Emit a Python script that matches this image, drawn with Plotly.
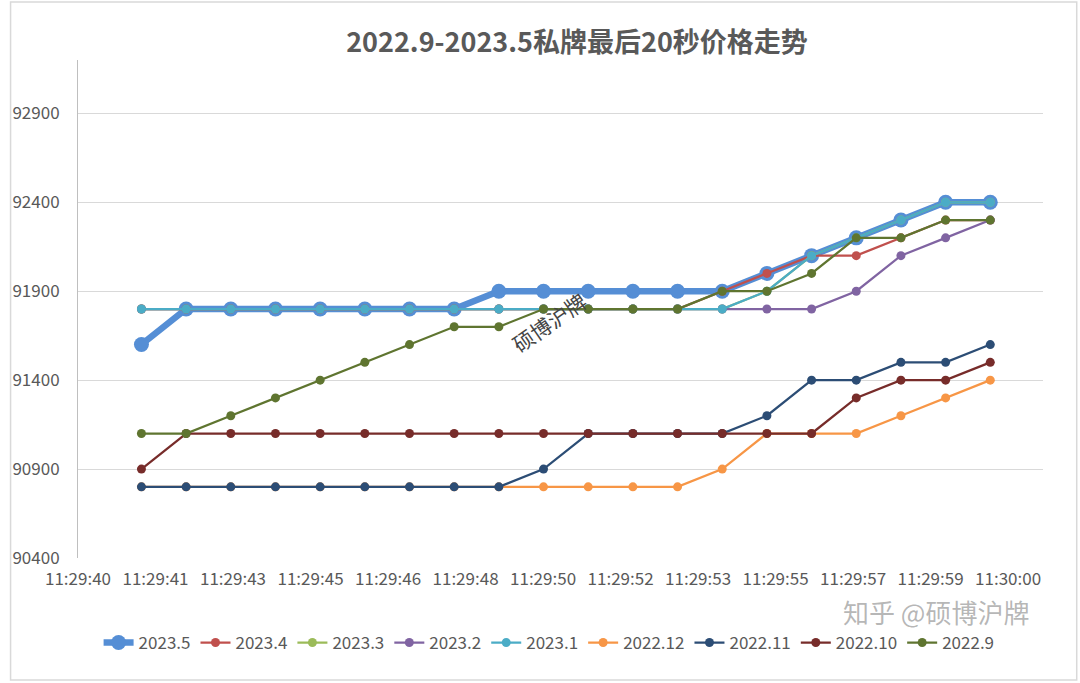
import datetime as dt
import plotly.graph_objects as go

# ---------------- data ----------------
times = ["11:29:41", "11:29:42", "11:29:43", "11:29:44", "11:29:45", "11:29:46", "11:29:47",
         "11:29:48", "11:29:49", "11:29:50", "11:29:51", "11:29:52", "11:29:53", "11:29:54",
         "11:29:55", "11:29:56", "11:29:57", "11:29:58", "11:29:59", "11:30:00"]

s_2023_5 = [91600, 91800, 91800, 91800, 91800, 91800, 91800, 91800, 91900, 91900,
            91900, 91900, 91900, 91900, 92000, 92100, 92200, 92300, 92400, 92400]
s_2023_4 = [91800, 91800, 91800, 91800, 91800, 91800, 91800, 91800, 91800, 91800,
            91800, 91800, 91800, 91900, 92000, 92100, 92100, 92200, 92300, 92300]
s_2023_3 = [91800, 91800, 91800, 91800, 91800, 91800, 91800, 91800, 91800, 91800,
            91800, 91800, 91800, 91800, 91900, 92100, 92200, 92300, 92400, 92400]
s_2023_2 = [91800, 91800, 91800, 91800, 91800, 91800, 91800, 91800, 91800, 91800,
            91800, 91800, 91800, 91800, 91800, 91800, 91900, 92100, 92200, 92300]
s_2023_1 = [91800, 91800, 91800, 91800, 91800, 91800, 91800, 91800, 91800, 91800,
            91800, 91800, 91800, 91800, 91900, 92100, 92200, 92300, 92400, 92400]
s_2022_12 = [90800, 90800, 90800, 90800, 90800, 90800, 90800, 90800, 90800, 90800,
             90800, 90800, 90800, 90900, 91100, 91100, 91100, 91200, 91300, 91400]
s_2022_11 = [90800, 90800, 90800, 90800, 90800, 90800, 90800, 90800, 90800, 90900,
             91100, 91100, 91100, 91100, 91200, 91400, 91400, 91500, 91500, 91600]
s_2022_10 = [90900, 91100, 91100, 91100, 91100, 91100, 91100, 91100, 91100, 91100,
             91100, 91100, 91100, 91100, 91100, 91100, 91300, 91400, 91400, 91500]
s_2022_9 = [91100, 91100, 91200, 91300, 91400, 91500, 91600, 91700, 91700, 91800,
            91800, 91800, 91800, 91900, 91900, 92000, 92200, 92200, 92300, 92300]

series_names = ["2023.5", "2023.4", "2023.3", "2023.2", "2023.1",
                "2022.12", "2022.11", "2022.10", "2022.9"]
series_values = [s_2023_5, s_2023_4, s_2023_3, s_2023_2, s_2023_1,
                 s_2022_12, s_2022_11, s_2022_10, s_2022_9]
colors = ["#558ED5", "#C0504D", "#9BBB59", "#8064A2", "#4BACC6",
          "#F79646", "#2C4D75", "#772C2A", "#5F7530"]

tick_labels = ["11:29:40", "11:29:41", "11:29:43", "11:29:45", "11:29:46", "11:29:48",
               "11:29:50", "11:29:52", "11:29:53", "11:29:55", "11:29:57", "11:29:59",
               "11:30:00"]

title_text = "2022.9-2023.5私牌最后20秒价格走势"

# ---------------- figure ----------------
day = "2023-05-01 "
x = [dt.datetime.strptime(day + t, "%Y-%m-%d %H:%M:%S") for t in times]

x_start = x[0] - dt.timedelta(seconds=1.42)
x_end = x[-1] + dt.timedelta(seconds=1.18)
step = (x_end - x_start) / 12.45
tick_vals = [x_start + step * k for k in range(len(tick_labels))]

FONT = "Noto Sans CJK SC"
fig = go.Figure()
for i, (name, vals, col) in enumerate(zip(series_names, series_values, colors)):
    thick = i == 0
    fig.add_trace(go.Scatter(
        x=x, y=vals, name=name, mode="lines+markers",
        line=dict(color=col, width=6.5 if thick else 2.25),
        marker=dict(color=col, size=15 if thick else 9),
    ))

L, R, T, B = 70, 37, 60, 125
W, H = 1080, 683
pw, ph = W - L - R, H - T - B

fig.update_layout(
    width=W, height=H,
    margin=dict(l=L, r=R, t=T, b=B),
    paper_bgcolor="white", plot_bgcolor="white",
    font=dict(family=FONT, color="#595959", size=17),
    title=dict(text="<b>" + title_text + "</b>", x=577 / W, xanchor="center",
               y=1 - 43 / H, yanchor="middle", yref="container",
               font=dict(size=27, color="#595959", family=FONT)),
    showlegend=True,
    legend=dict(orientation="h", x=(545 - L) / pw, xanchor="center", y=-(643 - 558) / ph,
                yanchor="middle", font=dict(size=17, color="#595959"),
                itemwidth=30, tracegroupgap=0),
    xaxis=dict(type="date", range=[x_start, x_end], tickmode="array",
               tickvals=tick_vals, ticktext=tick_labels, showgrid=False,
               showline=False, zeroline=False, ticks="", ticklabelstandoff=9,
               tickfont=dict(size=17, color="#595959")),
    yaxis=dict(range=[90400, 93200], tick0=90400, dtick=500, tickformat="d",
               showgrid=True, gridcolor="#D9D9D9", gridwidth=1, showline=True,
               linecolor="#BFBFBF", linewidth=1, zeroline=False, ticks="",
               ticklabelstandoff=14, tickfont=dict(size=17, color="#595959")),
)

# outer chart border
fig.add_shape(type="rect", xref="paper", yref="paper",
              x0=(2 - L) / pw, x1=(W - 3 - L) / pw,
              y0=-(H - 3 - T - ph) / ph, y1=1 + (T - 2) / ph,
              line=dict(color="#D9D9D9", width=1.5), fillcolor="rgba(0,0,0,0)", layer="below")

# watermarks
fig.add_annotation(text="硕博沪牌", xref="paper", yref="paper",
                   x=(545 - L) / pw, y=1 - (322 - T) / ph, xanchor="center", yanchor="middle",
                   showarrow=False, textangle=-35,
                   font=dict(size=21, color="#444444", family=FONT))
fig.add_annotation(text="知乎 @硕博沪牌", xref="paper", yref="paper",
                   x=(935 - L) / pw, y=-(611 - 558) / ph, xanchor="center", yanchor="middle",
                   showarrow=False,
                   font=dict(size=26, color="rgba(120,120,120,0.55)", family=FONT))

fig.write_html("out.html", config={"displayModeBar": False},
               post_script="document.body.style.margin='0px';")
